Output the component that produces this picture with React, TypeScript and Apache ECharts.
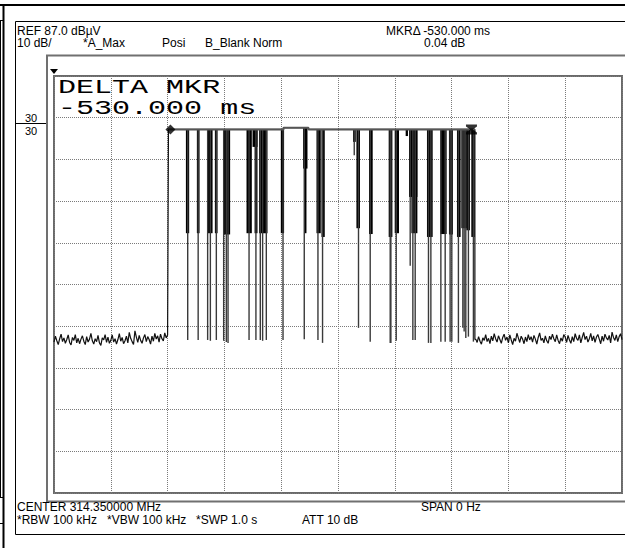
import React, { useEffect, useRef } from "react";
import * as echarts from "echarts";

// ---- instrument settings ----
const REF_LEVEL = 87.0; // dBµV, top of screen
const SWEEP_MS = 1000; // SWP 1.0 s, zero span
const TIME_DIV_MS = 100;
const DB_DIV = 10;

// ---- noise floor before and after the burst (dBµV, one sample every 2.5 ms) ----
const NOISE_STEP_MS = 2.5;
const noiseLeftStartMs = 0;
const noiseLeft = [
  23.2, 24.6, 23.5, 22.6, 24.0, 25.1, 23.3, 24.2, 22.9, 23.8, 24.9, 23.1, 22.5, 24.3, 23.6, 25.0, 23.0, 24.1, 22.8, 23.9,
  24.7, 23.4, 22.6, 24.5, 23.2, 23.9, 25.3, 23.5, 22.7, 24.0, 23.3, 24.8, 23.0, 22.4, 24.2, 23.7, 25.0, 23.1, 24.4, 22.9,
  23.6, 24.9, 23.2, 24.0, 22.7, 23.8, 25.2, 23.4, 24.3, 22.8, 23.5, 24.6, 23.0, 25.5, 24.1, 23.3, 22.6, 25.9, 24.4, 23.1,
  24.8, 23.6, 22.9, 24.2, 25.0, 23.3, 24.5, 23.8, 22.7, 24.6, 23.4, 25.3, 23.9, 24.7, 23.2, 25.1, 24.0, 23.5, 25.4, 24.2,
  24.9,
];
const noiseRightStartMs = 742.5;
const noiseRight = [
  23.9, 23.1, 24.5, 23.4, 22.7, 24.2, 23.6, 25.0, 23.3, 24.1, 22.8, 24.6, 23.5, 25.2, 24.0, 23.2, 24.7, 23.8, 22.9, 24.3,
  25.1, 23.6, 24.4, 23.0, 24.9, 23.7, 22.6, 24.1, 23.4, 25.3, 24.2, 23.1, 24.6, 23.9, 22.8, 24.4, 23.3, 25.0, 23.7, 24.5,
  23.2, 24.8, 23.9, 22.7, 24.3, 25.4, 23.6, 24.1, 23.0, 24.7, 23.5, 22.9, 24.6, 23.8, 25.1, 24.0, 23.3, 24.9, 23.6, 22.8,
  24.2, 23.4, 25.0, 24.4, 23.1, 24.8, 23.7, 22.9, 24.5, 23.3, 25.2, 24.1, 23.6, 24.9, 23.0, 24.3, 25.5, 23.8, 24.6, 23.2,
  24.0, 25.3, 23.5, 24.7, 23.1, 24.4, 25.0, 23.9, 22.8, 24.6, 23.4, 25.1, 24.2, 23.7, 24.8, 23.0, 25.6, 24.3, 23.6, 24.9,
  23.3, 24.5, 25.2, 23.8,
];

// ---- carrier envelope (rise, top level, fall) ----
const carrierTimesMs = [201.5, 404, 404, 448, 448, 741, 741];
const carrierLevels = [74.2, 74.2, 74.6, 74.6, 74.2, 74.2, 23.8];

// ---- OOK gaps drawn as dark blocks (start ms, end ms, lowest level of block dBµV) ----
const gapStartMs = [
  233.1, 252.4, 270.5, 284.1, 298.7, 339.8, 350.4, 354.0, 362.0, 400.2, 439.4, 441.2,
  463.0, 471.8, 527.4, 533.3, 555.5, 590.1, 600.7, 620.0, 625.9, 630.1, 657.5, 681.1,
  696.2, 710.3, 718.0, 726.8, 735.6,
];
const gapEndMs = [
  237.1, 255.4, 278.3, 287.1, 309.2, 347.4, 357.4, 357.4, 375.0, 404.2, 445.4, 443.6,
  468.8, 475.8, 530.4, 537.9, 560.2, 594.9, 606.5, 622.3, 638.9, 638.9, 665.8, 690.4,
  701.5, 715.0, 726.8, 731.4, 739.7,
];
const gapFloorDb = [
  49.3, 49.3, 49.3, 49.3, 49.0, 49.3, 70.0, 49.3, 49.3, 49.3, 64.8, 49.3,
  49.3, 48.4, 71.2, 50.5, 49.1, 48.4, 49.3, 72.6, 58.0, 49.3, 48.4, 49.1,
  49.0, 48.4, 50.5, 50.0, 48.4,
];

// ---- thin drop-out lines reaching toward the noise floor (ms, lowest level dBµV) ----
const dropTimeMs = [
  235.4, 253.8, 270.5, 275.3, 285.8, 298.7, 303.4, 306.4, 343.4, 355.5, 363.2, 367.3,
  373.8, 403.2, 440.6, 464.7, 472.8, 528.6, 536.1, 556.7, 591.9, 593.1, 602.5, 627.1,
  631.8, 635.9, 659.3, 663.5, 681.1, 688.7, 697.4, 700.4, 712.0, 719.8, 722.1, 725.0,
  729.6, 738.4,
];
const dropFloorDb = [
  23.7, 23.7, 23.7, 23.5, 23.7, 23.5, 23.2, 23.0, 23.7, 23.7, 23.7, 23.5,
  23.7, 23.7, 23.9, 23.7, 23.0, 68.0, 26.6, 23.3, 23.0, 23.0, 23.5, 41.5,
  23.7, 23.7, 23.0, 23.0, 23.3, 23.3, 23.3, 23.3, 23.0, 26.6, 25.7, 24.2,
  24.5, 23.3,
];

// ---- markers ----
const markerTimesMs = [205, 735];
const markerLevels = [74.2, 74.2];

const rel = (v: number) => v - REF_LEVEL;

function levelAt(t: number): number {
  let lv = carrierLevels[0];
  for (let i = 0; i < carrierTimesMs.length - 1; i++) {
    if (carrierTimesMs[i] <= t) lv = carrierLevels[i];
  }
  return lv;
}

const SANS = '"Liberation Sans", Arial, sans-serif';
const MONO = '"Liberation Mono", "DejaVu Sans Mono", monospace';

function txt(text: string, x: number, y: number, size = 12) {
  return {
    type: "text",
    x,
    y,
    z: 20,
    style: {
      text,
      fontFamily: SANS,
      fontSize: size,
      fill: "#000",
      align: "left",
      verticalAlign: "middle",
    },
  };
}

function bigTxt(text: string, x: number, y: number) {
  return {
    type: "text",
    x,
    y,
    scaleX: 1.43,
    z: 20,
    style: {
      text,
      fontFamily: MONO,
      fontSize: 21,
      fill: "#000",
      align: "left",
      verticalAlign: "middle",
    },
  };
}

export default function App() {
  const ref = useRef<HTMLDivElement>(null);

  useEffect(() => {
    if (!ref.current) return;
    const chart = echarts.init(ref.current, null, { renderer: "svg" });

    const traceData: number[][] = [
      ...noiseLeft.map((v, i) => [noiseLeftStartMs + i * NOISE_STEP_MS, rel(v)]),
      ...carrierTimesMs.map((t, i) => [t, rel(carrierLevels[i])]),
      ...noiseRight.map((v, i) => [noiseRightStartMs + i * NOISE_STEP_MS, rel(v)]),
    ];

    // plateau only (without the final fall point)
    const plateauData = carrierTimesMs
      .slice(0, carrierTimesMs.length - 1)
      .map((t, i) => [t, rel(carrierLevels[i])]);

    const gapData = gapStartMs.map((s, i) => [
      s,
      gapEndMs[i],
      rel(gapFloorDb[i]),
      rel(levelAt(s)),
    ]);

    const dropData = dropTimeMs.map((t, i) => [t, rel(dropFloorDb[i]), rel(levelAt(t))]);

    const gridLine = {
      show: true,
      lineStyle: { color: "#7a7a7a", width: 1, type: [1, 1] as number[] },
    };

    const option: any = {
      animation: false,
      backgroundColor: "#ffffff",
      grid: {
        left: 54,
        top: 76,
        width: 568,
        height: 417,
        show: true,
        borderColor: "#6a6a6a",
        borderWidth: 2,
        containLabel: false,
      },
      xAxis: {
        type: "value",
        min: 0,
        max: SWEEP_MS,
        interval: TIME_DIV_MS,
        axisLine: { show: false },
        axisTick: { show: false },
        axisLabel: { show: false },
        splitLine: gridLine,
      },
      yAxis: {
        type: "value",
        min: -100,
        max: 0,
        interval: DB_DIV,
        axisLine: { show: false },
        axisTick: { show: false },
        axisLabel: { show: false },
        splitLine: gridLine,
      },
      series: [
        {
          type: "custom",
          name: "gaps",
          data: gapData,
          encode: { x: [0, 1], y: [2, 3] },
          renderItem: (_p: any, api: any) => {
            const a = api.coord([api.value(0), api.value(3)]);
            const b = api.coord([api.value(1), api.value(2)]);
            return {
              type: "rect",
              shape: {
                x: a[0] - 0.5,
                y: a[1],
                width: Math.max(b[0] - a[0] + 1, 1.8),
                height: b[1] - a[1],
              },
              style: { fill: "#000" },
            };
          },
        },
        {
          type: "custom",
          name: "drops",
          data: dropData,
          encode: { x: 0, y: [1, 2] },
          renderItem: (_p: any, api: any) => {
            const a = api.coord([api.value(0), api.value(2)]);
            const b = api.coord([api.value(0), api.value(1)]);
            return {
              type: "line",
              shape: { x1: a[0], y1: a[1], x2: b[0], y2: b[1] },
              style: { stroke: "#3a3a3a", lineWidth: 1.4 },
            };
          },
        },
        {
          type: "line",
          name: "A_Max",
          data: traceData,
          showSymbol: false,
          symbol: "none",
          lineStyle: { color: "#111", width: 1.2 },
        },
        {
          type: "line",
          name: "plateau",
          data: plateauData,
          showSymbol: false,
          symbol: "none",
          lineStyle: { color: "#555", width: 2 },
        },
        {
          type: "scatter",
          name: "markers",
          data: [
            {
              value: [markerTimesMs[0], rel(markerLevels[0])],
              symbol: "diamond",
              symbolSize: [10, 10],
            },
            {
              value: [markerTimesMs[1], rel(markerLevels[1])],
              symbol: "path://M0,0L10,0L10,2L6.2,5L10,8L10,10L0,10L0,8L3.8,5L0,2Z",
              symbolSize: [11, 10],
            },
          ],
          itemStyle: { color: "#000" },
          z: 5,
        },
      ],
      graphic: [
        // outer window frame pieces
        { type: "rect", z: 10, shape: { x: 0, y: 4, width: 625, height: 2 }, style: { fill: "#000" } },
        { type: "rect", z: 10, shape: { x: 2.5, y: 5, width: 2, height: 543 }, style: { fill: "#000" } },
        { type: "line", z: 10, shape: { x1: 0.5, y1: 20, x2: 0.5, y2: 497 }, style: { stroke: "#000", lineWidth: 1 } },
        { type: "line", z: 10, shape: { x1: 0, y1: 20.5, x2: 3, y2: 20.5 }, style: { stroke: "#000", lineWidth: 1 } },
        { type: "line", z: 10, shape: { x1: 0, y1: 497.5, x2: 3, y2: 497.5 }, style: { stroke: "#000", lineWidth: 1 } },
        { type: "line", z: 10, shape: { x1: 0, y1: 523.5, x2: 3, y2: 523.5 }, style: { stroke: "#000", lineWidth: 1 } },
        // instrument panel
        {
          type: "rect",
          z: 10,
          shape: { x: 15.5, y: 21.5, width: 640, height: 513 },
          style: { fill: "none", stroke: "#000", lineWidth: 1 },
        },
        {
          type: "rect",
          z: 10,
          shape: { x: 47, y: 55.5, width: 620, height: 446 },
          style: { fill: "none", stroke: "#707070", lineWidth: 2 },
        },
        { type: "line", z: 10, shape: { x1: 15.5, y1: 123.5, x2: 46, y2: 123.5 }, style: { stroke: "#000", lineWidth: 1 } },
        {
          type: "polygon",
          z: 10,
          shape: { points: [[50, 69], [58, 69], [54, 74]] },
          style: { fill: "#000" },
        },
        // header
        txt("REF 87.0 dBµV", 17, 30.5),
        txt("MKRΔ -530.000 ms", 386, 30.5),
        txt("10 dB/", 17, 43),
        txt("*A_Max", 83, 43),
        txt("Posi", 162, 43),
        txt("B_Blank Norm", 205, 43),
        txt("0.04 dB", 424, 43),
        // side scale labels
        txt("30", 25, 117.5, 11),
        txt("30", 25, 131, 11),
        // footer
        txt("CENTER 314.350000 MHz", 17, 507),
        txt("SPAN 0 Hz", 421, 507),
        txt("*RBW 100 kHz", 17, 519.5),
        txt("*VBW 100 kHz", 107, 519.5),
        txt("*SWP 1.0 s", 196, 519.5),
        txt("ATT 10 dB", 302, 519.5),
        // delta marker readout
        bigTxt("DELTA MKR", 58, 87),
        bigTxt("-530.000 ms", 58, 108.5),
      ],
    };

    chart.setOption(option);
    return () => chart.dispose();
  }, []);

  return (
    <div
      ref={ref}
      style={{ position: "absolute", left: 0, top: 0, width: 625, height: 548, background: "#fff" }}
    />
  );
}
